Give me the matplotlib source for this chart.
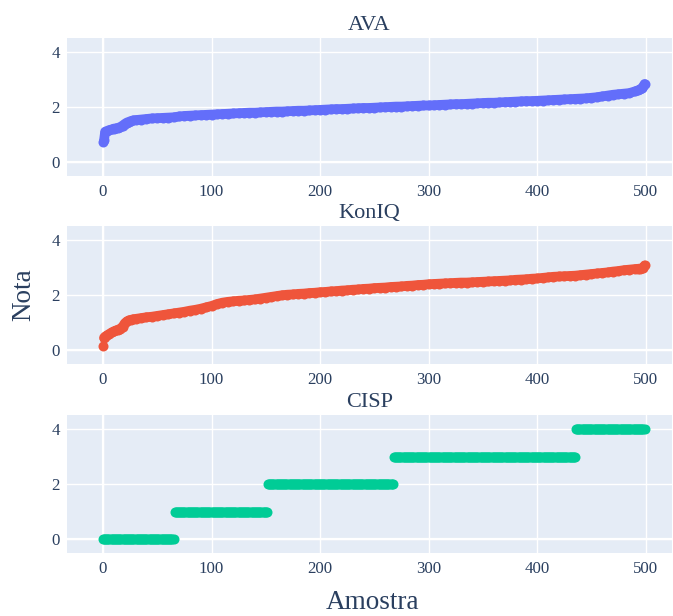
import numpy as np
import matplotlib
matplotlib.use("Agg")
import matplotlib.pyplot as plt

plt.rcParams['font.family'] = ['Liberation Serif', 'DejaVu Serif']

# amostras (AVA / KonIQ usam os mesmos indices)
amostras = [0, 1] + list(range(2, 31, 2)) + list(range(35, 491, 5)) + [493, 495, 497, 498, 499]

nota_ava = [0.72, 0.80, 1.10, 1.13, 1.16, 1.18, 1.21, 1.22, 1.24, 1.27, 1.32, 1.38, 1.43, 1.46, 1.49, 1.51, 1.52,
            1.54, 1.56, 1.58, 1.59, 1.60, 1.61, 1.62, 1.65, 1.67, 1.68, 1.69, 1.70, 1.71, 1.72, 1.73, 1.74,
            1.75, 1.76, 1.77, 1.78, 1.79, 1.79, 1.80, 1.81, 1.82, 1.83, 1.83, 1.84, 1.85, 1.86, 1.86, 1.87,
            1.88, 1.89, 1.90, 1.91, 1.92, 1.92, 1.93, 1.94, 1.95, 1.96, 1.96, 1.97, 1.98, 1.99, 2.00, 2.01,
            2.01, 2.02, 2.03, 2.04, 2.05, 2.05, 2.06, 2.07, 2.08, 2.09, 2.10, 2.10, 2.11, 2.12, 2.13, 2.14,
            2.15, 2.15, 2.16, 2.17, 2.18, 2.19, 2.20, 2.21, 2.21, 2.22, 2.23, 2.24, 2.25, 2.26, 2.27, 2.28,
            2.29, 2.30, 2.31, 2.33, 2.35, 2.38, 2.41, 2.44, 2.46, 2.48, 2.50, 2.56,
            2.60, 2.64, 2.70, 2.75, 2.83]

nota_koniq = [0.14, 0.46, 0.50, 0.55, 0.60, 0.65, 0.69, 0.72, 0.75, 0.79, 0.85, 0.98, 1.05, 1.09, 1.11, 1.13, 1.14,
              1.17, 1.20, 1.22, 1.25, 1.28, 1.31, 1.34, 1.37, 1.40, 1.44, 1.47, 1.51, 1.56, 1.61, 1.68, 1.73,
              1.76, 1.78, 1.80, 1.81, 1.83, 1.85, 1.88, 1.91, 1.94, 1.97, 2.00, 2.02, 2.03, 2.05, 2.06, 2.08,
              2.09, 2.11, 2.12, 2.14, 2.15, 2.17, 2.18, 2.20, 2.21, 2.23, 2.24, 2.26, 2.27, 2.28, 2.30, 2.31,
              2.32, 2.34, 2.35, 2.37, 2.38, 2.40, 2.41, 2.42, 2.43, 2.44, 2.45, 2.46, 2.46, 2.47, 2.48, 2.49,
              2.50, 2.51, 2.52, 2.53, 2.54, 2.56, 2.57, 2.58, 2.60, 2.61, 2.63, 2.65, 2.67, 2.68, 2.69, 2.70,
              2.71, 2.73, 2.75, 2.77, 2.79, 2.81, 2.83, 2.86, 2.88, 2.91, 2.93, 2.95,
              2.96, 2.97, 2.98, 3.00, 3.08]

# CISP: notas inteiras, quantidade de amostras por nota
cisp_notas = [0, 1, 2, 3, 4]
cisp_qtd = [66, 86, 116, 168, 64]
nota_cisp = np.repeat(cisp_notas, cisp_qtd)
amostras_cisp = np.arange(len(nota_cisp))

titulos = ["AVA", "KonIQ", "CISP"]
cores = ["#636efa", "#EF553B", "#00cc96"]
series = [(amostras, nota_ava), (amostras, nota_koniq), (amostras_cisp, nota_cisp)]

txt = "#2a3f5f"
fig = plt.figure(figsize=(6.73, 6.16), dpi=100)
bottoms = [0.7148, 0.409, 0.1023]
for i in range(3):
    ax = fig.add_axes([0.099, bottoms[i], 0.899, 0.2235])
    ax.set_facecolor("#E5ECF6")
    x, y = series[i]
    ax.set_axisbelow(True)
    ax.grid(True, color="white", lw=1.0)
    ax.axhline(0, color="white", lw=1.6, zorder=1)
    ax.axvline(0, color="white", lw=1.6, zorder=1)
    if i < 2:
        # pontos muito densos: uma faixa suave por baixo dos marcadores
        ax.plot(x[1:], y[1:], "-", color=cores[i], lw=7.0, solid_capstyle="round",
                solid_joinstyle="round", zorder=2)
    ax.plot(x, y, "o", color=cores[i], ms=7.2, mew=0, zorder=3)
    ax.set_xlim(-33.5, 524)
    ax.set_ylim(-0.5, 4.5)
    ax.set_xticks([0, 100, 200, 300, 400, 500])
    ax.set_yticks([0, 2, 4])
    ax.tick_params(length=0, labelsize=12.2, labelcolor=txt, pad=5)
    ax.tick_params(axis="x", pad=6)
    for s in ax.spines.values():
        s.set_visible(False)
    ax.set_title(titulos[i], fontsize=16, color=txt, pad=6)

fig.text(0.554, 0.022, "Amostra", fontsize=19.5, color=txt, ha="center", va="center")
fig.text(0.036, 0.521, "Nota", fontsize=19.5, color=txt, ha="center", va="center", rotation=90)

fig.savefig("out.png", dpi=100, facecolor="white")
